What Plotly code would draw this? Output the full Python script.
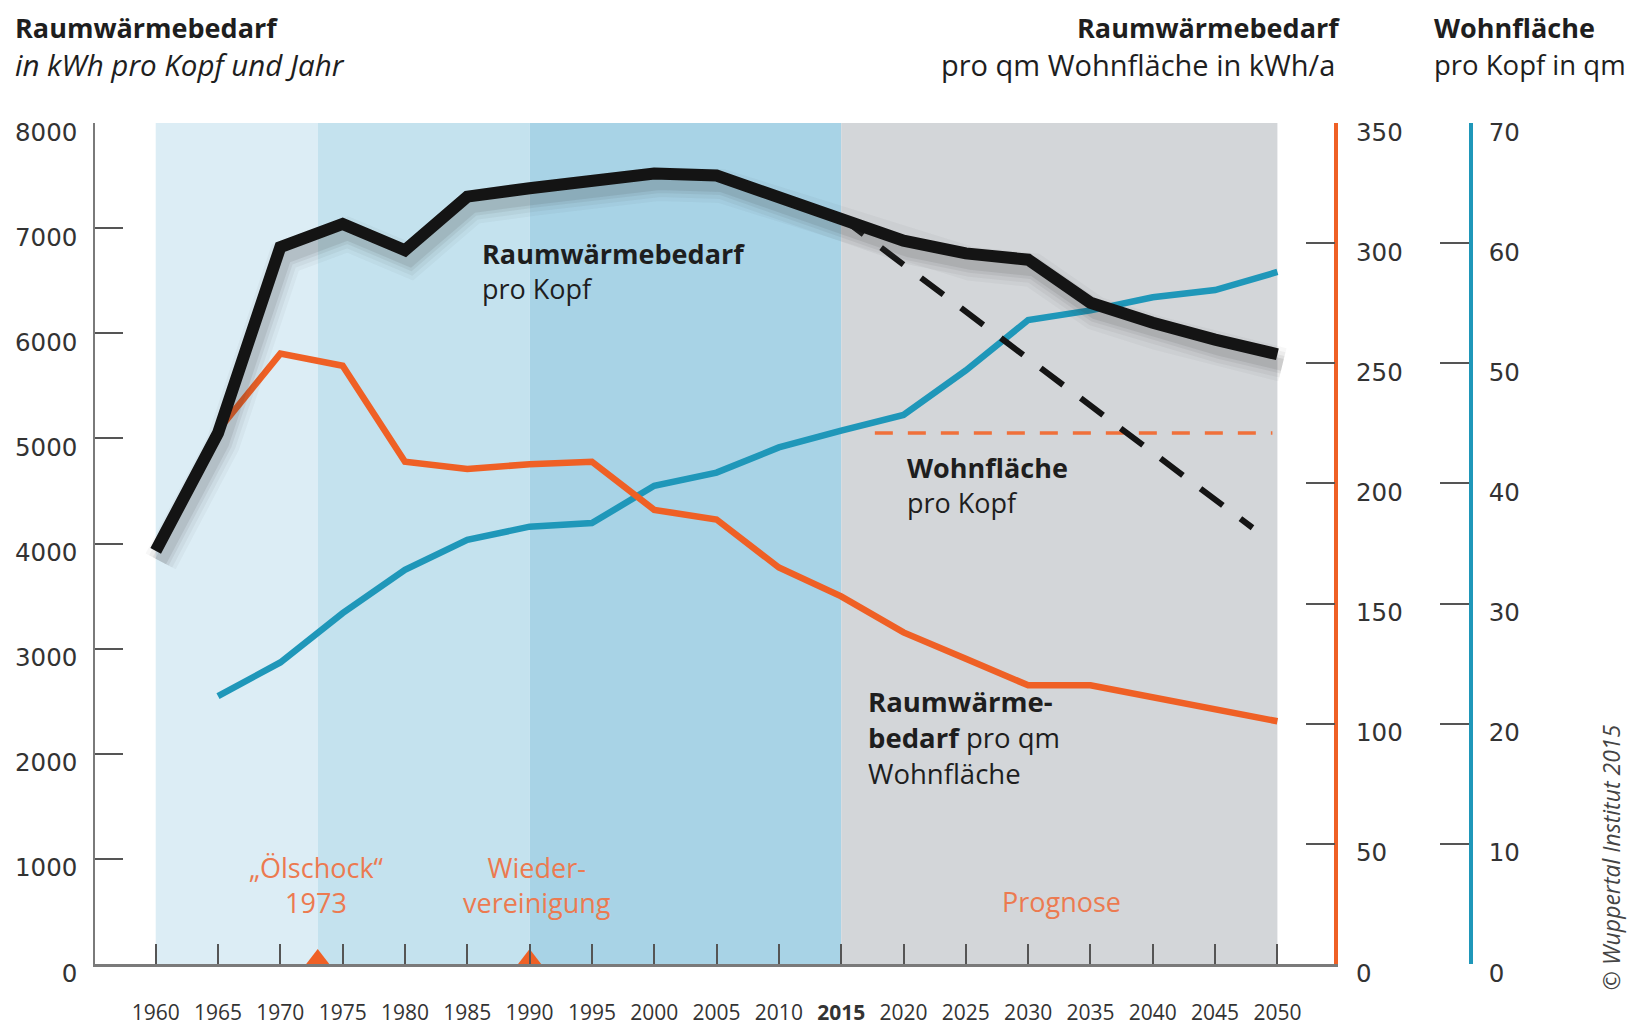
import plotly.graph_objects as go
import numpy as np

# ---------------- data ----------------
years = [1960, 1965, 1970, 1975, 1980, 1985, 1990, 1995, 2000, 2005,
         2010, 2015, 2020, 2025, 2030, 2035, 2040, 2045, 2050]
heat_per_capita = [3930, 5050, 6820, 7040, 6790, 7300, 7380, 7460, 7520, 7500,
                   7300, 7100, 6880, 6760, 6700, 6290, 6100, 5940, 5800]

area_years = [1965, 1970, 1975, 1980, 1985, 1990, 1995, 2000, 2005,
              2010, 2015, 2020, 2025, 2030, 2035, 2040, 2045, 2050]
heat_per_sqm = [222, 254, 249, 209, 206, 208, 209, 189, 185,
                165, 153, 138, 127, 116, 116, 111, 106, 101]
living_area = [22.3, 25.1, 29.2, 32.8, 35.3, 36.4, 36.7, 39.8, 40.9,
               43.0, 44.4, 45.7, 49.4, 53.6, 54.4, 55.5, 56.1, 57.6]

scenario_years = [2015, 2048]
scenario_heat = [7100, 4150]

target_years = [2017.7, 2049.6]
target_sqm = [221, 221]

event_years = [1973, 1990]

band_starts = [1960, 1973, 1990, 2015]
band_ends = [1973, 1990, 2015, 2050]

tick_years = list(range(1960, 2051, 5))
tick_labels = ["<b>2015</b>" if y == 2015 else str(y) for y in tick_years]

# ---------------- styles ----------------
BLACK = "#141414"
ORANGE = "#ef6025"
ORANGE_TXT = "#ec7a50"
TEAL = "#1f97b9"
BAND_COLORS = ["#dcedf5", "#c4e2ee", "#a8d3e6", "#d3d6d9"]
TXT = "#1e1e1e"
FONT = "Open Sans"
NUMFONT = "DejaVu Sans"

# page body has an 8px margin in the browser -> compensate
W, H = 1631, 1018
ML, MR, MT, MB = 87, 168, 115, 62
XDOM = 0.9007

fig = go.Figure()

# teal (base axis y)
fig.add_trace(go.Scatter(x=area_years, y=living_area, mode="lines",
                         line=dict(color=TEAL, width=6.5), yaxis="y",
                         hoverinfo="skip", showlegend=False))
# orange (y2)
fig.add_trace(go.Scatter(x=target_years, y=target_sqm, mode="lines",
                         line=dict(color="#f0703a", width=3.5, dash="18px,15px"),
                         yaxis="y2", hoverinfo="skip", showlegend=False))
fig.add_trace(go.Scatter(x=area_years, y=heat_per_sqm, mode="lines",
                         line=dict(color=ORANGE, width=6.5), yaxis="y2",
                         hoverinfo="skip", showlegend=False))
# black (y3)
fig.add_trace(go.Scatter(x=scenario_years, y=scenario_heat, mode="lines",
                         line=dict(color=BLACK, width=6, dash="28px,22px"),
                         yaxis="y3", hoverinfo="skip", showlegend=False))
SHADOW_DX, SHADOW_DY = 0.4, -100
sx = np.array(years) + SHADOW_DX
sy = np.array(heat_per_capita) + SHADOW_DY
for w, a in [(34, 0.04), (26, 0.06), (18, 0.08), (12, 0.10)]:
    fig.add_trace(go.Scatter(x=sx, y=sy, mode="lines",
                             line=dict(color=f"rgba(60,60,60,{a})", width=w),
                             yaxis="y3", hoverinfo="skip", showlegend=False))
fig.add_trace(go.Scatter(x=years, y=heat_per_capita, mode="lines",
                         line=dict(color=BLACK, width=12), yaxis="y3",
                         hoverinfo="skip", showlegend=False))
# event triangles
EVENT_MARKER_Y = 48
fig.add_trace(go.Scatter(x=event_years, y=[EVENT_MARKER_Y] * len(event_years),
                         mode="markers", cliponaxis=False,
                         marker=dict(symbol="triangle-up", size=20, color=ORANGE),
                         yaxis="y3", hoverinfo="skip", showlegend=False))

shapes = []
for x0, x1, c in zip(band_starts, band_ends, BAND_COLORS):
    shapes.append(dict(type="rect", xref="x", yref="paper", x0=x0, x1=x1, y0=0, y1=1,
                       fillcolor=c, line=dict(width=0), layer="below"))

annotations = []
def ann(text, x, y, xref="x", yref="y3", xanchor="left", yanchor="middle",
        size=27, color=TXT, align="left", **kw):
    annotations.append(dict(text=text, x=x, y=y, xref=xref, yref=yref,
                            xanchor=xanchor, yanchor=yanchor, showarrow=False,
                            align=align, font=dict(family=FONT, size=size, color=color), **kw))

ann("<b>Raumwärmebedarf</b><br>pro Kopf", 1986.0, 6590)
ann("<b>Wohnfläche</b><br>pro Kopf", 2020.1, 4560)
ann("<b>Raumwärme-</b><br><b>bedarf</b> pro qm<br>Wohnfläche", 2017.0, 2150, size=27.5)
ann("„Ölschock“<br>1973", 1972.9, 752, xanchor="center", align="center", color=ORANGE_TXT)
ann("Wieder-<br>vereinigung", 1990.6, 752, xanchor="center", align="center", color=ORANGE_TXT)
ann("Prognose", 2032.7, 598, xanchor="center", align="center", color=ORANGE_TXT)

# headings
HY1, HY2 = 1.1133, 1.0690
ann("<b>Raumwärmebedarf</b>", -0.0594, HY1, xref="paper", yref="paper")
ann("<i>in kWh pro Kopf und Jahr</i>", -0.0594, HY2, xref="paper", yref="paper", size=29.5)
ann("<b>Raumwärmebedarf</b>", 0.9062, HY1, xref="paper", yref="paper", xanchor="right", align="right")
ann("pro qm Wohnfläche in kWh/a", 0.9026, HY2, xref="paper", yref="paper",
    xanchor="right", align="right", size=29)
ann("<b>Wohnfläche</b>", 0.9716, HY1, xref="paper", yref="paper")
ann("pro Kopf in qm", 0.9716, HY2, xref="paper", yref="paper", size=27.5)
ann("<i>© Wuppertal Institut 2015</i>", 1.1017, 0.127, xref="paper", yref="paper",
    xanchor="center", yanchor="middle", size=23, color="#444", textangle=-90)

tickfont = dict(family=NUMFONT, size=24.5, color="#333")

fig.update_layout(
    width=W, height=H,
    margin=dict(l=ML, r=MR, t=MT, b=MB, pad=0, autoexpand=False),
    paper_bgcolor="white", plot_bgcolor="white",
    showlegend=False,
    shapes=shapes, annotations=annotations,
    xaxis=dict(domain=[0, XDOM], range=[1955.13, 2054.57], anchor="y", automargin=False,
               tickmode="array", tickvals=tick_years, ticktext=tick_labels,
               ticks="inside", ticklen=20, tickwidth=1.5, tickcolor="#555",
               showline=True, linecolor="#7a7a7a", linewidth=2.5,
               showgrid=False, zeroline=False, ticklabelstandoff=28,
               tickfont=dict(family=FONT, size=21, color="#333")),
    yaxis=dict(range=[0, 70], dtick=10, anchor="free", position=1.0, side="right",
               automargin=False,
               ticks="inside", ticklen=29, tickwidth=1.5, tickcolor="#555",
               showline=True, linecolor=TEAL, linewidth=3.5,
               showgrid=False, zeroline=False, ticklabelstandoff=11,
               ticklabelshift=9, tickfont=tickfont),
    yaxis2=dict(range=[0, 350], dtick=50, overlaying="y", anchor="x", side="right",
                automargin=False,
                ticks="inside", ticklen=29, tickwidth=1.5, tickcolor="#555",
                showline=True, linecolor=ORANGE, linewidth=3.5,
                showgrid=False, zeroline=False, ticklabelstandoff=13,
                ticklabelshift=9, tickfont=tickfont),
    yaxis3=dict(range=[0, 8000], dtick=1000, overlaying="y", anchor="x", side="left",
                automargin=False,
                ticks="inside", ticklen=28, tickwidth=1.5, tickcolor="#555",
                showline=True, linecolor="#7a7a7a", linewidth=1.5,
                showgrid=False, zeroline=False, ticklabelstandoff=11,
                ticklabelshift=9, tickfont=tickfont),
)

fig.write_html("out.html")
